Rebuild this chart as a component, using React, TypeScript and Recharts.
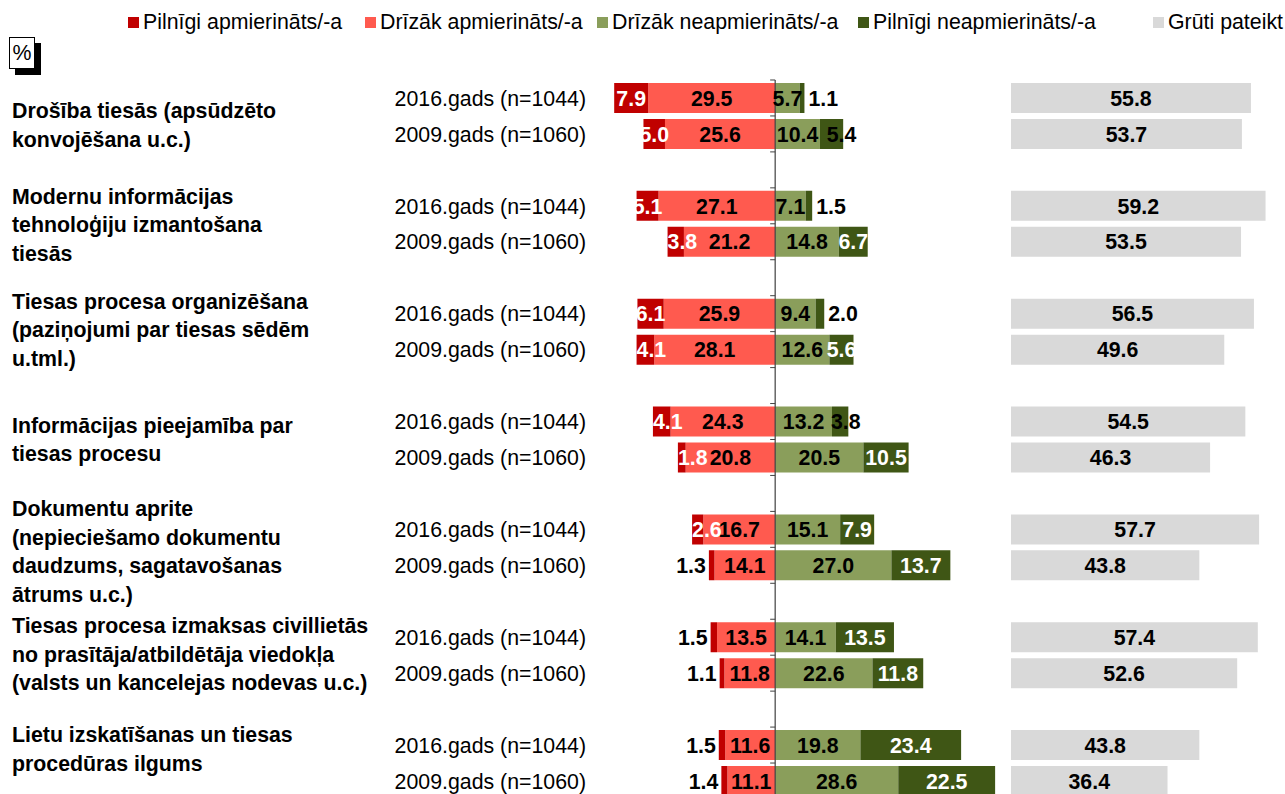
import React from 'react';
import { BarChart, Bar, XAxis, YAxis, LabelList, ReferenceLine, Legend } from 'recharts';

// ---------- DATA ----------
const categoryLabels: string[][] = [
  ['Drošība tiesās (apsūdzēto', 'konvojēšana u.c.)'],
  ['Modernu informācijas', 'tehnoloģiju izmantošana', 'tiesās'],
  ['Tiesas procesa organizēšana', '(paziņojumi par tiesas sēdēm', 'u.tml.)'],
  ['Informācijas pieejamība par', 'tiesas procesu'],
  ['Dokumentu aprite', '(nepieciešamo dokumentu', 'daudzums, sagatavošanas', 'ātrums u.c.)'],
  ['Tiesas procesa izmaksas civillietās', 'no prasītāja/atbildētāja viedokļa', '(valsts un kancelejas nodevas u.c.)'],
  ['Lietu izskatīšanas un tiesas', 'procedūras ilgums'],
];
const yearLabels = ['2016.gads (n=1044)', '2009.gads (n=1060)'];
const seriesNames = [
  'Pilnīgi apmierināts/-a',
  'Drīzāk apmierināts/-a',
  'Drīzāk neapmierināts/-a',
  'Pilnīgi neapmierināts/-a',
  'Grūti pateikt',
];
// values per category: [2016, 2009]
const pilnigiApmierinats = [7.9, 5.0, 5.1, 3.8, 6.1, 4.1, 4.1, 1.8, 2.6, 1.3, 1.5, 1.1, 1.5, 1.4];
const drizakApmierinats = [29.5, 25.6, 27.1, 21.2, 25.9, 28.1, 24.3, 20.8, 16.7, 14.1, 13.5, 11.8, 11.6, 11.1];
const drizakNeapmierinats = [5.7, 10.4, 7.1, 14.8, 9.4, 12.6, 13.2, 20.5, 15.1, 27.0, 14.1, 22.6, 19.8, 28.6];
const pilnigiNeapmierinats = [1.1, 5.4, 1.5, 6.7, 2.0, 5.6, 3.8, 10.5, 7.9, 13.7, 13.5, 11.8, 23.4, 22.5];
const grutiPateikt = [55.8, 53.7, 59.2, 53.5, 56.5, 49.6, 54.5, 46.3, 57.7, 43.8, 57.4, 52.6, 43.8, 36.4];

// ---------- STYLE ----------
const COLORS = ['#C00000', '#FF5A4F', '#8A9E5B', '#3F5615', '#D9D9D9'];
const FONT = '"Liberation Sans", Arial, Helvetica, sans-serif';
const FS = 21.33;
// small vertical nudges (px) of the category text blocks, as in the original layout
const LABEL_NUDGE = [9, 1, -2, 0, 4, -1, -14];

// ---------- TABLE ----------
type Row = { key: string; cat: number; year: number; pa?: number; da?: number; dn?: number; pn?: number; gp?: number };
const table: Row[] = [];
categoryLabels.forEach((_, c) => {
  [0, 1].forEach((y) => {
    const i = c * 2 + y;
    table.push({
      key: `c${c}-y${y}`,
      cat: c,
      year: y,
      pa: -pilnigiApmierinats[i],
      da: -drizakApmierinats[i],
      dn: drizakNeapmierinats[i],
      pn: pilnigiNeapmierinats[i],
      gp: grutiPateikt[i],
    });
  });
  table.push({ key: `c${c}-gap`, cat: c, year: -1 });
});
const rowByKey: Record<string, Row> = {};
table.forEach((r) => (rowByKey[r.key] = r));

// ---------- LAYOUT ----------
const TOP = 80;
const BOTTOM = 5;
const ROW_H = 35.95;
const CHART_H = TOP + BOTTOM + ROW_H * table.length;

// ---------- LABELS ----------
const fmt = (v: number) => Math.abs(v).toFixed(1);

function makeLabel(kind: 'pa' | 'da' | 'dn' | 'pn' | 'gp') {
  return (props: any) => {
    const vb = props.viewBox || {};
    const x0 = Number(props.x ?? vb.x);
    const w0 = Number(props.width ?? vb.width);
    const y0 = Number(props.y ?? vb.y);
    const h0 = Number(props.height ?? vb.height);
    const raw = props.value;
    if (raw === undefined || raw === null || Number.isNaN(Number(raw))) return null;
    const v = Math.abs(Number(raw));
    if (!Number.isFinite(x0) || !Number.isFinite(w0)) return null;
    const left = Math.min(x0, x0 + w0);
    const right = Math.max(x0, x0 + w0);
    const cy = y0 + h0 / 2;
    let x = (left + right) / 2;
    let anchor: 'start' | 'middle' | 'end' = 'middle';
    let fill = '#000';
    if (kind === 'pa') {
      if (v < 1.6) {
        x = left - 3;
        anchor = 'end';
      } else if (v < 4.5) {
        x = left;
        anchor = 'start';
        fill = '#fff';
      } else {
        fill = '#fff';
      }
    } else if (kind === 'pn') {
      if (v < 2.5) {
        x = right + 4;
        anchor = 'start';
      } else if (v < 4.5) {
        x = left - 1;
        anchor = 'start';
      } else if (v >= 5.5) {
        fill = '#fff';
      } else {
        x = (left + right) / 2 + 10;
      }
    }
    return (
      <text
        x={x}
        y={cy}
        dy="0.36em"
        textAnchor={anchor}
        fill={fill}
        fontFamily={FONT}
        fontSize={FS}
        fontWeight="bold"
      >
        {fmt(v)}
      </text>
    );
  };
}

// ---------- TICKS ----------
const RowTick = (props: any) => {
  const { y, payload } = props;
  const row = rowByKey[payload?.value];
  if (!row || row.year < 0) return <g />;
  const lines = categoryLabels[row.cat];
  const mid = y + ROW_H / 2 + LABEL_NUDGE[row.cat];
  const lh = 28.5;
  return (
    <g>
      <text x={586} y={y} dy="0.36em" textAnchor="end" fill="#000" fontFamily={FONT} fontSize={FS}>
        {yearLabels[row.year]}
      </text>
      {row.year === 0 &&
        lines.map((ln, i) => (
          <text
            key={i}
            x={12}
            y={mid - ((lines.length - 1) * lh) / 2 + i * lh}
            dy="0.36em"
            textAnchor="start"
            fill="#000"
            fontFamily={FONT}
            fontSize={FS}
            fontWeight="bold"
          >
            {ln}
          </text>
        ))}
    </g>
  );
};

const AxisShape = (p: any) => {
  const x = Number(p.x1);
  const top = Math.min(Number(p.y1), Number(p.y2));
  const bottom = Math.max(Number(p.y1), Number(p.y2));
  const step = (bottom - top) / table.length;
  const ticks = [];
  for (let i = 0; i <= table.length; i++) {
    const ty = top + i * step;
    ticks.push(<line key={i} x1={x - 5} x2={x} y1={ty} y2={ty} stroke="#404040" strokeWidth={1} />);
  }
  return (
    <g>
      <line x1={x} x2={x} y1={top} y2={bottom} stroke="#404040" strokeWidth={1.2} />
      {ticks}
    </g>
  );
};

// ---------- LEGEND ----------
const LegendContent = () => {
  const xs = [128, 365, 597, 858, 1153];
  return (
    <div style={{ position: 'relative', height: 0, width: 1285 }}>
      {seriesNames.map((n, i) => (
        <div
          key={n}
          style={{
            position: 'absolute',
            left: xs[i],
            top: 9,
            display: 'flex',
            alignItems: 'center',
            whiteSpace: 'nowrap',
            fontFamily: FONT,
            fontSize: FS,
            lineHeight: '26px',
            color: '#000',
          }}
        >
          <span style={{ display: 'inline-block', width: 11, height: 11, background: COLORS[i], marginRight: 4 }} />
          <span>{n}</span>
        </div>
      ))}
      <div
        style={{
          position: 'absolute',
          left: 15,
          top: 43,
          width: 26,
          height: 32,
          background: '#000',
        }}
      />
      <div
        style={{
          position: 'absolute',
          left: 9,
          top: 37,
          width: 24,
          height: 30,
          background: '#fff',
          border: '1px solid #000',
          fontFamily: FONT,
          fontSize: FS,
          lineHeight: '30px',
          textAlign: 'center',
          color: '#000',
        }}
      >
        %
      </div>
    </div>
  );
};

export default function App() {
  return (
    <div
      style={{
        position: 'fixed',
        left: 0,
        top: 0,
        width: 1285,
        height: 794,
        overflow: 'hidden',
        background: '#fff',
        fontFamily: FONT,
      }}
    >
      <div style={{ position: 'absolute', left: 0, top: 0 }}>
        <BarChart
          width={1000}
          height={CHART_H}
          data={table}
          layout="vertical"
          stackOffset="sign"
          barSize={30}
          margin={{ top: TOP, right: 1, bottom: BOTTOM, left: 0 }}
        >
          <XAxis type="number" domain={[-40, 52]} hide allowDataOverflow />
          <YAxis
            type="category"
            dataKey="key"
            width={603}
            interval={0}
            axisLine={false}
            tickLine={false}
            tick={RowTick}
          />
          <Legend
            verticalAlign="top"
            content={LegendContent}
            wrapperStyle={{ top: 0, left: 0, width: 1285, height: 0 }}
          />
          <Bar dataKey="da" name={seriesNames[1]} stackId="s" fill={COLORS[1]} isAnimationActive={false}>
            <LabelList dataKey="da" content={makeLabel('da')} />
          </Bar>
          <Bar dataKey="pa" name={seriesNames[0]} stackId="s" fill={COLORS[0]} isAnimationActive={false}>
            <LabelList dataKey="pa" content={makeLabel('pa')} />
          </Bar>
          <Bar dataKey="dn" name={seriesNames[2]} stackId="s" fill={COLORS[2]} isAnimationActive={false}>
            <LabelList dataKey="dn" content={makeLabel('dn')} />
          </Bar>
          <Bar dataKey="pn" name={seriesNames[3]} stackId="s" fill={COLORS[3]} isAnimationActive={false}>
            <LabelList dataKey="pn" content={makeLabel('pn')} />
          </Bar>
          <ReferenceLine x={0} shape={AxisShape} ifOverflow="visible" />
        </BarChart>
      </div>
      <div style={{ position: 'absolute', left: 1011, top: 0 }}>
        <BarChart
          width={274}
          height={CHART_H}
          data={table}
          layout="vertical"
          barSize={30}
          margin={{ top: TOP, right: 16, bottom: BOTTOM, left: 0 }}
        >
          <XAxis type="number" domain={[0, 60]} hide allowDataOverflow />
          <YAxis type="category" dataKey="key" hide />
          <Bar dataKey="gp" name={seriesNames[4]} fill={COLORS[4]} isAnimationActive={false}>
            <LabelList dataKey="gp" content={makeLabel('gp')} />
          </Bar>
        </BarChart>
      </div>
    </div>
  );
}
